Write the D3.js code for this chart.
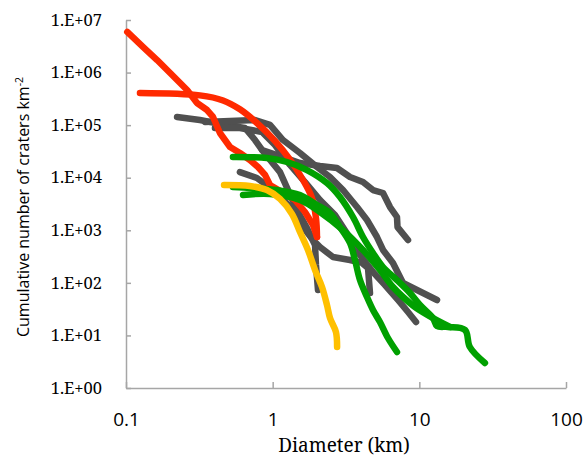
<!DOCTYPE html>
<html><head><meta charset="utf-8">
<script src="https://cdn.jsdelivr.net/npm/d3@7"></script>
<style>
html,body{margin:0;padding:0;background:#fff;}
svg{display:block;}
</style></head>
<body>
<svg id="chart" width="585" height="459"></svg>
<script>
// ---- data: [diameter km, cumulative number km^-2] ----
const xTicks = [0.1, 1, 10, 100];
const yTicks = [1, 10, 100, 1e3, 1e4, 1e5, 1e6, 1e7];

const gray1 = [[0.223,1.43e5],[0.319,1.25e5],[0.473,1.01e5],[0.648,8.83e4],[0.758,5.21e4],[0.846,3.37e4],[1.122,2.59e4],[1.535,1.90e4],[2.102,1.67e4],[2.745,1.53e4],[3.367,1.03e4],[4.129,8.28e3],[4.83,5.83e3],[5.653,5.12e3],[6.31,2.77e3],[7.04,1.79e3],[7.1,1.15e3],[8.37,653]];
const gray2 = [[0.346,1.15e5],[0.512,1.20e5],[0.758,1.25e5],[0.959,1.01e5],[1.176,5.21e4],[1.535,2.95e4],[2.005,1.60e4],[2.46,1.03e4],[3.017,5.83e3],[3.758,2.77e3],[4.397,1.57e3],[5.143,745],[5.653,422],[6.61,239],[7.74,99.3],[9.64,73.1],[13.2,47.2]];
const gray3 = [[0.404,8.83e4],[0.598,8.83e4],[0.846,7.41e4],[1.037,4.19e4],[1.313,1.75e4],[1.661,8.28e3],[2.102,3.77e3],[2.661,1.95e3],[3.263,813],[3.939,339],[4.83,161],[5.833,91.0],[7.15,47.2],[8.37,27.9],[9.49,18.0]];
const gray4 = [[0.598,1.28e4],[0.781,9.87e3],[1.071,5.12e3],[1.376,2.43e3],[1.610,1.15e3],[1.884,653],[2.102,481],[2.578,310],[3.367,272],[4.064,239],[4.467,192],[4.609,64.1]];
const gray5 = [[0.846,3.37e4],[1.122,1.28e4],[1.465,2.43e3],[1.714,1.10e3],[1.945,525],[1.974,219],[2.037,73.1]];

const red1 = [[0.102,5.92e6],[0.131,3.06e6],[0.163,1.73e6],[0.200,9.8e5],[0.261,4.66e5],[0.305,2.64e5],[0.357,1.94e5],[0.392,1.43e5],[0.437,7.08e4],[0.512,3.84e4],[0.598,2.95e4],[0.700,2.17e4],[0.794,1.60e4],[0.887,1.13e4],[0.959,7.27e3],[1.158,5.35e3],[1.420,3.77e3],[1.661,2.23e3],[1.884,1.26e3],[2.005,745]];
const red2 = [[0.1245,4.09e5],[0.319,3.68e5],[0.459,2.95e5],[0.598,2.0e5],[0.781,1.1e5],[1.037,5.0e4],[1.313,2.2e4],[1.610,9.04e3],[1.854,4.11e3],[1.974,1.71e3],[2.005,745]];

const greenA = [[0.536,2.48e4],[0.914,2.37e4],[1.253,1.99e4],[1.714,1.40e4],[2.346,7.93e3],[2.877,4.30e3],[3.529,1.79e3],[4.129,745],[4.83,370],[5.653,200],[7.04,113],[8.64,64.1],[10.1,37.9],[12.4,21.4],[13.2,15.1],[15.7,14.5],[20.5,12.7],[22.1,6.03],[28.0,2.99]];
const greenB = [[0.536,6.65e3],[0.700,6.37e3],[1.071,5.83e3],[1.535,4.69e3],[2.005,3.03e3],[2.46,2.13e3],[2.877,1.15e3],[3.367,573],[3.642,272],[3.939,113],[4.397,53.8],[4.83,30.5],[5.39,18.0],[6.11,8.93],[7.04,4.84]];
const greenC = [[0.628,4.69e3],[0.959,4.90e3],[1.535,3.77e3],[2.102,2.23e3],[3.017,1.01e3],[4.129,422],[5.39,175],[6.61,83.4],[7.74,53.8],[9.34,34.7],[12.4,21.4],[16.2,14.5]];

const yellow1 = [[0.466,7270],[0.700,6950],[0.914,5830],[1.122,3940],[1.354,2040],[1.535,927],[1.741,422],[1.945,175],[2.17,83.4],[2.346,37.9],[2.46,21.4],[2.70,11.6],[2.75,6.03]];

const seriesList = [
  {data: gray1, color: "#505050", smooth: false},
  {data: gray2, color: "#505050", smooth: false},
  {data: gray3, color: "#505050", smooth: false},
  {data: gray4, color: "#505050", smooth: false},
  {data: gray5, color: "#505050", smooth: false},
  {data: red1, color: "#ff2a00", smooth: false},
  {data: red2, color: "#ff2a00", smooth: true},
  {data: greenA, color: "#00a000", smooth: true},
  {data: greenB, color: "#00a000", smooth: true},
  {data: greenC, color: "#00a000", smooth: true},
  {data: yellow1, color: "#ffc000", smooth: true}
];

// ---- drawing ----
const SERIF = '"Noto Serif", "Liberation Serif", serif';
const SANS = '"Open Sans", "Liberation Sans", sans-serif';
const svg = d3.select("#chart");
const x = d3.scaleLog().domain([0.1, 100]).range([126, 566]);
const y = d3.scaleLog().domain([1, 1e7]).range([388, 20]);
const axisColor = "#a6a6a6";

const xAxis = svg.append("g").attr("transform", "translate(0,388)")
  .call(d3.axisBottom(x).tickValues(xTicks).tickSize(-6).tickSizeOuter(0).tickPadding(25)
    .tickFormat(d => d3.format("~g")(d)));
xAxis.selectAll("path,line").attr("stroke", axisColor).attr("stroke-width", 1.5);
xAxis.selectAll("text").style("font-family", SANS).style("font-size", "19px").attr("fill", "#000");

const yAxis = svg.append("g").attr("transform", "translate(126,0)")
  .call(d3.axisLeft(y).tickValues(yTicks).tickSize(-5).tickSizeOuter(0).tickPadding(24)
    .tickFormat(d => "1.E+" + String(Math.round(Math.log10(d))).padStart(2, "0")));
yAxis.selectAll("path,line").attr("stroke", axisColor).attr("stroke-width", 1.5);
yAxis.selectAll("text").style("font-family", SERIF).style("font-size", "16.5px").attr("fill", "#000");

const lineStraight = d3.line().x(d => x(d[0])).y(d => y(d[1]));
const lineSmooth = d3.line().x(d => x(d[0])).y(d => y(d[1])).curve(d3.curveCatmullRom.alpha(0.5));
svg.append("g").selectAll("path").data(seriesList).join("path")
  .attr("d", s => (s.smooth ? lineSmooth : lineStraight)(s.data))
  .attr("fill", "none")
  .attr("stroke", s => s.color)
  .attr("stroke-width", 6.5)
  .attr("stroke-linecap", "round")
  .attr("stroke-linejoin", "round");

svg.append("text").attr("x", 344).attr("y", 452).attr("text-anchor", "middle")
  .style("font-family", SERIF).style("font-size", "19px").attr("fill", "#000")
  .text("Diameter (km)");

const yt = svg.append("text").attr("transform", "translate(29,207) rotate(-90)")
  .attr("text-anchor", "middle")
  .style("font-family", SANS).style("font-size", "16px").attr("fill", "#000");
yt.append("tspan").text("Cumulative number of craters km");
yt.append("tspan").style("font-size", "10.5px").attr("dy", -6).text("-2");
</script>
</body></html>
